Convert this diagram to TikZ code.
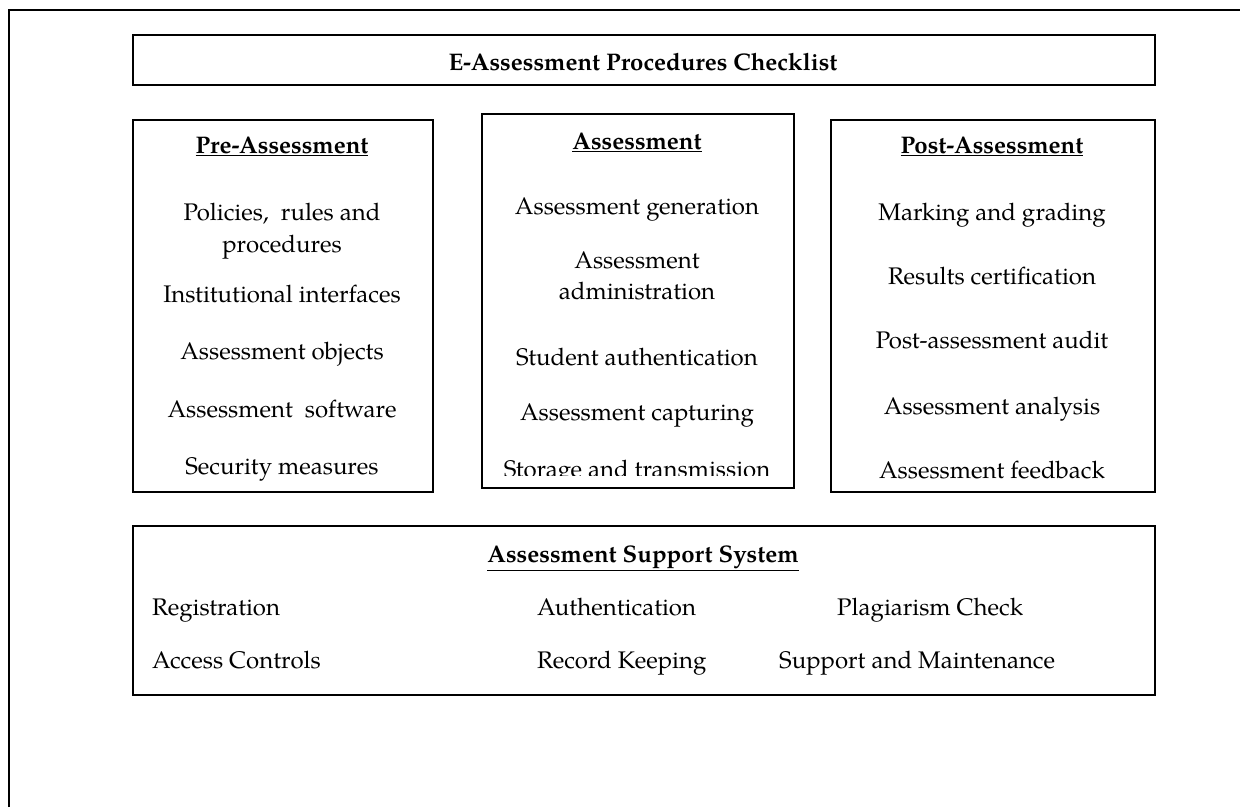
\documentclass[tikz,border=0pt]{standalone}
\usepackage{fontspec}
\setmainfont{TeX Gyre Pagella}
\begin{document}
\begin{tikzpicture}[x=1pt,y=-1pt,
  box/.style={draw,line width=1.5pt,inner sep=0pt,anchor=north west},
  txt/.style={anchor=base,inner sep=0pt,font=\fontsize{24}{28}\selectfont},
  ltxt/.style={anchor=base west,inner sep=0pt,font=\fontsize{24}{28}\selectfont},
  hd/.style={anchor=base,inner sep=0pt,font=\fontsize{24}{28}\selectfont\bfseries}]
\useasboundingbox (0,0) rectangle (1240,807);
% outer frame
\draw[line width=1.5pt] (9,807) -- (9,10) -- (1240,10);
% boxes
\node[box,minimum width=1022pt,minimum height=50pt] (titlebox) at (132,34) {};
\node[box,minimum width=300pt,minimum height=372pt] (prebox) at (132,119) {};
\node[box,minimum width=312pt,minimum height=374pt] (asbox) at (481,113) {};
\node[box,minimum width=324pt,minimum height=372pt] (postbox) at (830,119) {};
\node[box,minimum width=1022pt,minimum height=169pt] (supbox) at (132,525) {};
% title
\node[hd] (title) at (643,70) {E-Assessment Procedures Checklist};
% pre-assessment
\node[hd] (preh) at (282,153) {\underline{Pre-Assessment}};
\node[txt] (p1a) at (282,220) {Policies,\ \ rules and};
\node[txt] (p1b) at (282,252) {procedures};
\node[txt] (p2) at (282,302) {Institutional interfaces};
\node[txt] (p3) at (282,359) {Assessment objects};
\node[txt] (p4) at (282,417) {Assessment\ \ software};
\node[txt] (p5) at (282,474) {Security measures};
% assessment
\node[hd] (ash) at (637,149) {\underline{Assessment}};
\node[txt] (a1) at (637,214) {Assessment generation};
\node[txt] (a2a) at (637,268) {Assessment};
\node[txt] (a2b) at (637,299) {administration};
\node[txt] (a3) at (637,365) {Student authentication};
\node[txt] (a4) at (637,420) {Assessment capturing};
\begin{scope}
\clip (481,113) rectangle (793,475);
\node[txt] (a5) at (637,477) {Storage and transmission};
\end{scope}
% post-assessment
\node[hd] (posth) at (992,153) {\underline{Post-Assessment}};
\node[txt] (q1) at (992,220) {Marking and grading};
\node[txt] (q2) at (992,284) {Results certification};
\node[txt] (q3) at (992,348) {Post-assessment audit};
\node[txt] (q4) at (992,414) {Assessment analysis};
\node[txt] (q5) at (992,478) {Assessment feedback};
% support system
\node[hd] (suph) at (643,562) {\underline{Assessment Support System}};
\node[ltxt] (s1) at (152,615) {Registration};
\node[ltxt] (s2) at (537,615) {Authentication};
\node[ltxt] (s3) at (837,615) {Plagiarism Check};
\node[ltxt] (s4) at (152,668) {Access Controls};
\node[ltxt] (s5) at (537,668) {Record Keeping};
\node[ltxt] (s6) at (779,668) {Support and Maintenance};
\end{tikzpicture}
\end{document}
